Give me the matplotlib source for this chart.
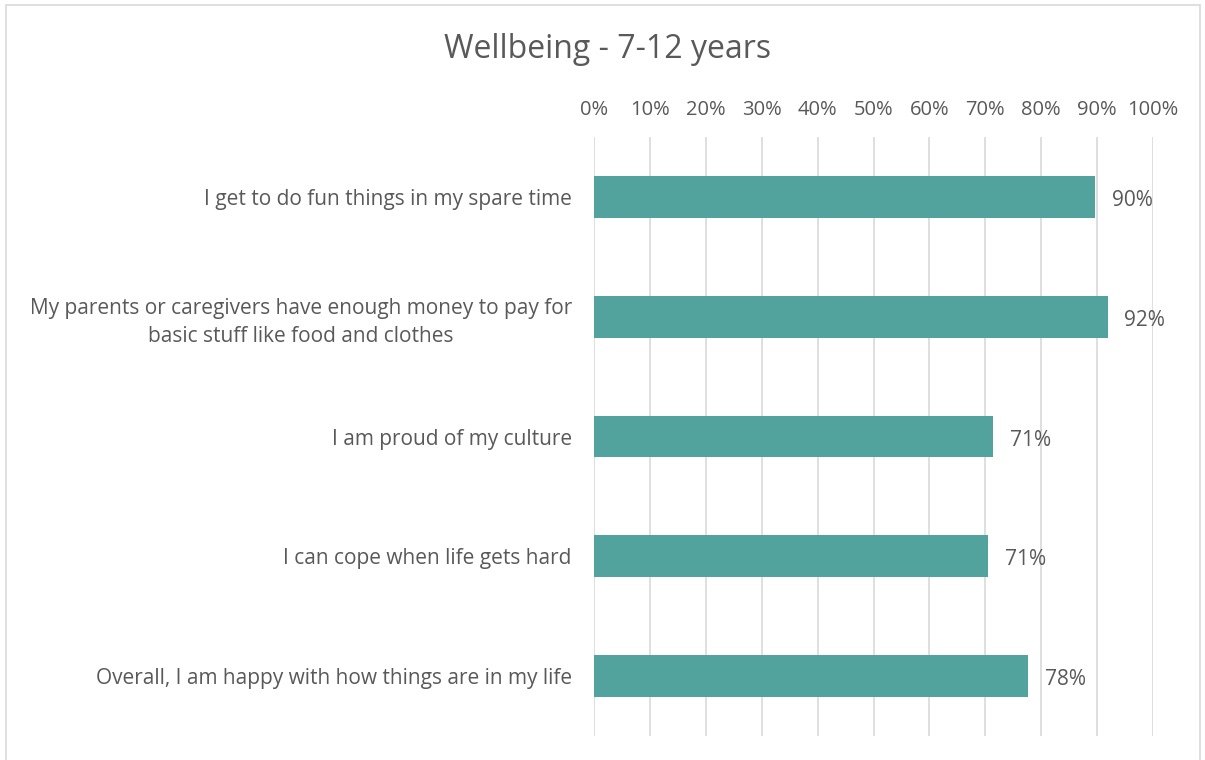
import matplotlib
matplotlib.use("Agg")
import matplotlib.pyplot as plt
from matplotlib.ticker import PercentFormatter, MultipleLocator
from matplotlib.patches import Rectangle

categories = [
    "I get to do fun things in my spare time",
    "My parents or caregivers have enough money to pay for\nbasic stuff like food and clothes",
    "I am proud of my culture",
    "I can cope when life gets hard",
    "Overall, I am happy with how things are in my life",
]
values = [0.896, 0.919, 0.714, 0.705, 0.776]
value_labels = ["90%", "92%", "71%", "71%", "78%"]
title = "Wellbeing - 7-12 years"

plt.rcParams['font.family'] = ['Open Sans', 'DejaVu Sans']
text_color = "#595959"
bar_color = "#52A39D"
grid_color = "#D9D9D9"

W, H = 1205, 760
fig = plt.figure(figsize=(W / 100, H / 100), dpi=100)
ax = fig.add_axes([594 / W, 1 - 736 / H, (1153 - 594) / W, (736 - 137) / H])

y = list(range(len(categories)))
ax.barh(y, values, height=0.35, color=bar_color, zorder=3)
ax.set_ylim(len(categories) - 0.5, -0.5)
ax.set_xlim(0, 1)
ax.set_yticks(y)
ax.set_yticklabels(categories, fontsize=15, color=text_color, ha="right")
for lbl in ax.get_yticklabels():
    lbl.set_multialignment("center")
    lbl.set_linespacing(1.4)
ax.tick_params(axis="y", length=0, pad=16)

ax.xaxis.tick_top()
ax.xaxis.set_major_locator(MultipleLocator(0.1))
ax.xaxis.set_major_formatter(PercentFormatter(1.0, decimals=0))
ax.tick_params(axis="x", length=0, labelsize=14.5, labelcolor=text_color, pad=12)
ax.grid(axis="x", color=grid_color, linewidth=1.2, zorder=0)
for s in ax.spines.values():
    s.set_visible(False)

for yi, v, lab in zip(y, values, value_labels):
    ax.text(v + 0.03, yi + 0.03, lab, va="center", ha="left", fontsize=15, color=text_color)

fig.text(608 / W, 1 - 50 / H, title, ha="center", va="center", fontsize=23, color=text_color)

fig.patches.append(Rectangle((6 / W, -0.01), (1200 - 6) / W, 1 - 5 / H + 0.01,
                             transform=fig.transFigure, fill=False,
                             edgecolor=grid_color, linewidth=1.2))

fig.savefig("out.png", dpi=100)
